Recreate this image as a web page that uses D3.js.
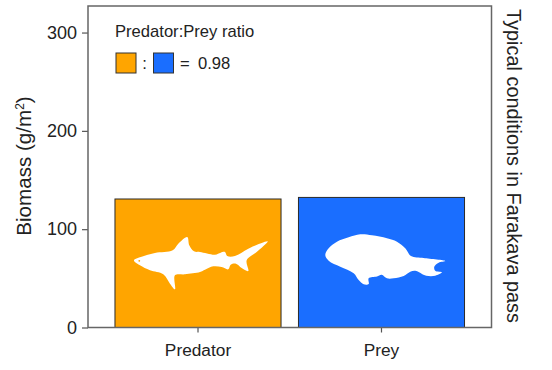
<!DOCTYPE html>
<html>
<head>
<meta charset="utf-8">
<script src="https://cdnjs.cloudflare.com/ajax/libs/d3/7.8.5/d3.min.js"></script>
<style>
  body { margin: 0; background: #fff; }
  text { font-family: "Liberation Sans", Arial, sans-serif; fill: #222; }
</style>
</head>
<body>
<div id="chart"></div>
<script>
const categories = ["Predator", "Prey"];
const biomass = [130.7, 132.3];
const yTicks = [0, 100, 200, 300];
const colors = ["#ffa500", "#1a6eff"];

// silhouettes, px offsets from bar left / baseline
const sharkShape = [[19,-67.2],[25,-70.2],[40,-74.5],[57.7,-77.2],[63.3,-83.8],[72.3,-90.5],[74.3,-82.2],[79,-76.2],[85,-75.5],[100,-72.8],[105.7,-74.8],[110,-75.5],[112.3,-71.5],[120,-71.5],[133.3,-78.8],[152.7,-86.2],[141.7,-75.5],[131.7,-67.2],[133.3,-56.5],[126.7,-59.5],[121,-63.8],[115.7,-62.8],[113.3,-58.2],[106.7,-60.5],[98.3,-61.2],[90,-57.8],[85,-55.5],[70,-53.2],[60,-52.2],[60,-38.2],[55,-43.8],[48.3,-53.2],[35,-57.2],[25,-62.2]];
const preyShape = [[26.8,-72.5],[30.2,-79.2],[38.5,-85.8],[50.2,-90.2],[61.8,-93.2],[73.5,-92.2],[88.5,-89.2],[98.5,-85.8],[106.8,-79.2],[112.5,-71.5],[125.2,-69.5],[146.8,-66.5],[140.2,-64.8],[135.8,-60.8],[136.8,-56.8],[143.5,-55.2],[136.8,-51.8],[127.8,-51.8],[116.8,-56.8],[111.8,-55.8],[105.2,-51.5],[95.2,-49.2],[88.5,-49.2],[83.2,-52.8],[78.5,-51],[70.2,-49.2],[70.2,-43.5],[65.2,-43.2],[60.2,-47.5],[55.2,-54.2],[41.8,-60.8],[30.2,-66.8]];
const shapes = [sharkShape, preyShape];

const W = 552, H = 370;
const margin = { top: 6, right: 60.5, bottom: 42.5, left: 88 };
const innerW = W - margin.left - margin.right;
const innerH = H - margin.top - margin.bottom;

const svg = d3.select("#chart").append("svg")
  .attr("width", W)
  .attr("height", H)
  .style("display", "block");

svg.append("filter")
  .attr("id", "soft")
  .append("feGaussianBlur")
  .attr("stdDeviation", 0.4);

const g = svg.append("g")
  .attr("transform", `translate(${margin.left},${margin.top})`);

const x = d3.scaleBand()
  .domain(categories)
  .range([0, innerW])
  .paddingInner(0.095)
  .paddingOuter(0.147);

const y = d3.scaleLinear()
  .domain([0, 327])
  .range([innerH, 0]);

// Bars
g.selectAll(".bar")
  .data(categories)
  .enter()
  .append("rect")
  .attr("class", "bar")
  .attr("x", d => x(d))
  .attr("y", (d, i) => y(biomass[i]))
  .attr("width", x.bandwidth())
  .attr("height", (d, i) => y(0) - y(biomass[i]))
  .attr("fill", (d, i) => colors[i])
  .attr("stroke", "#2a2a2a")
  .attr("stroke-width", 1);

// Animal silhouettes
const outline = d3.line().curve(d3.curveCatmullRomClosed.alpha(0.5));
g.selectAll(".animal")
  .data(categories)
  .enter()
  .append("path")
  .attr("class", "animal")
  .attr("transform", d => `translate(${x(d)},${y(0)})`)
  .attr("d", (d, i) => outline(shapes[i]))
  .attr("fill", "#fff")
  .attr("filter", "url(#soft)");

// Shark eye
g.append("circle")
  .attr("transform", `translate(${x("Predator")},${y(0)})`)
  .attr("cx", 24.3)
  .attr("cy", -66.7)
  .attr("r", 0.9)
  .attr("fill", colors[0]);

// Axes
const yAxis = g.append("g")
  .call(d3.axisLeft(y).tickValues(yTicks).tickSize(6).tickPadding(5));
const xAxis = g.append("g")
  .attr("transform", `translate(0,${innerH})`)
  .call(d3.axisBottom(x).tickSize(5).tickPadding(11));

[yAxis, xAxis].forEach(a => {
  a.select(".domain").remove();
  a.selectAll(".tick line").attr("stroke", "#555").attr("stroke-width", 1.2);
  a.selectAll(".tick text")
    .style("font-family", '"Liberation Sans", Arial, sans-serif')
    .attr("fill", "#222");
});
yAxis.selectAll(".tick text").style("font-size", "18px");
xAxis.selectAll(".tick text").style("font-size", "17.3px");

// Panel frame
g.append("rect")
  .attr("width", innerW)
  .attr("height", innerH)
  .attr("fill", "none")
  .attr("stroke", "#666")
  .attr("stroke-width", 1.5);

// Axis title
const yTitle = svg.append("text")
  .attr("transform", "translate(31,166) rotate(-90)")
  .attr("text-anchor", "middle")
  .style("font-size", "20.6px");
yTitle.append("tspan").text("Biomass (g/m");
yTitle.append("tspan").attr("dy", -7).style("font-size", "12px").text("2");
yTitle.append("tspan").attr("dy", 7).text(")");

// Right strip title
svg.append("text")
  .attr("transform", "translate(507,166) rotate(90)")
  .attr("text-anchor", "middle")
  .style("font-size", "19.9px")
  .text("Typical conditions in Farakava pass");

// Ratio legend
svg.append("text")
  .attr("x", 115)
  .attr("y", 37)
  .style("font-size", "16.6px")
  .text("Predator:Prey ratio");

const legendX = [116, 153.5];
svg.selectAll(".swatch")
  .data(colors)
  .enter()
  .append("rect")
  .attr("class", "swatch")
  .attr("x", (d, i) => legendX[i])
  .attr("y", 53)
  .attr("width", 20)
  .attr("height", 20)
  .attr("fill", d => d)
  .attr("stroke", "#333")
  .attr("stroke-width", 1);

svg.append("text")
  .attr("x", 144.5)
  .attr("y", 68.5)
  .attr("text-anchor", "middle")
  .style("font-size", "16.6px")
  .text(":");

svg.append("text")
  .attr("x", 180)
  .attr("y", 69)
  .style("font-size", "16.6px")
  .text("=");

svg.append("text")
  .attr("x", 198)
  .attr("y", 69)
  .style("font-size", "16.6px")
  .text("0.98");
</script>
</body>
</html>
